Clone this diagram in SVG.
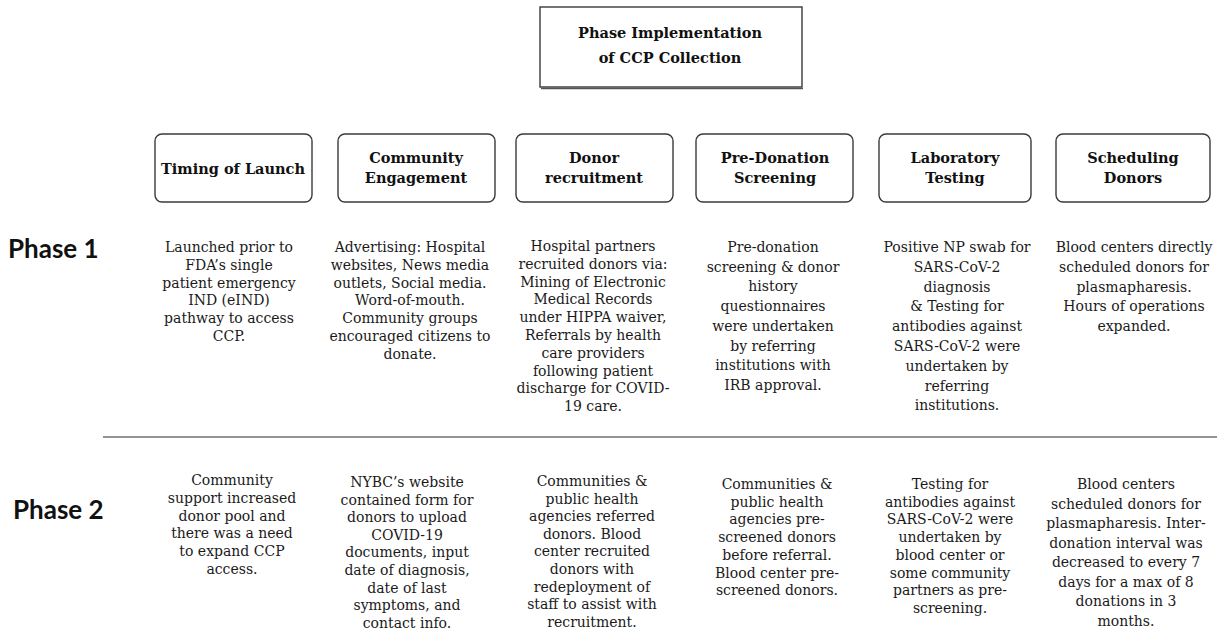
<svg xmlns="http://www.w3.org/2000/svg" width="1217" height="631" viewBox="0 0 1217 631">
<style>
.bg{fill:#ffffff}
.box{fill:#ffffff;stroke:#3a3a3a;stroke-width:1.4}
.shadow{fill:none;stroke:#555;stroke-width:1.5}
.hd{font-family:"DejaVu Serif","Liberation Serif",serif;font-weight:bold;font-size:14.5px;fill:#111;text-anchor:middle}
.tx{font-family:"DejaVu Serif","Liberation Serif",serif;font-size:14px;fill:#1a1a1a;text-anchor:middle}
.ph{font-family:Lato,"Open Sans",sans-serif;font-weight:bold;font-size:26px;fill:#111}
.sep{stroke:#707070;stroke-width:1.6}
</style>
<rect class="bg" x="0" y="0" width="1217" height="631"/>

<g id="title">
<line class="shadow" x1="541" y1="88.5" x2="803" y2="88.5"/>
<rect class="box" x="540" y="7" width="262" height="80"/>
<text class="hd" x="670" y="38">Phase Implementation</text>
<text class="hd" x="670" y="63">of CCP Collection</text>
</g>

<g id="hdr-timing">
<rect class="box" x="155" y="134" width="157" height="68" rx="7"/>
<text class="hd" x="233" y="174">Timing of Launch</text>
</g>
<g id="hdr-community">
<rect class="box" x="338" y="134" width="157" height="68" rx="7"/>
<text class="hd" x="416" y="163">Community</text>
<text class="hd" x="416" y="183">Engagement</text>
</g>
<g id="hdr-donor">
<rect class="box" x="516" y="134" width="157" height="68" rx="7"/>
<text class="hd" x="594" y="163">Donor</text>
<text class="hd" x="594" y="183">recruitment</text>
</g>
<g id="hdr-screening">
<rect class="box" x="696" y="134" width="157" height="68" rx="7"/>
<text class="hd" x="775" y="163">Pre-Donation</text>
<text class="hd" x="775" y="183">Screening</text>
</g>
<g id="hdr-lab">
<rect class="box" x="879" y="134" width="152" height="68" rx="7"/>
<text class="hd" x="955" y="163">Laboratory</text>
<text class="hd" x="955" y="183">Testing</text>
</g>
<g id="hdr-scheduling">
<rect class="box" x="1056" y="134" width="154" height="68" rx="7"/>
<text class="hd" x="1133" y="163">Scheduling</text>
<text class="hd" x="1133" y="183">Donors</text>
</g>

<g id="phase1-label"><text class="ph" x="8" y="258">Phase 1</text></g>
<g id="phase2-label"><text class="ph" x="13" y="519">Phase 2</text></g>

<g id="separators"><line class="sep" x1="103" y1="437" x2="1217" y2="437"/></g>

<g id="p1-timing">
<text class="tx" y="252"><tspan x="229">Launched prior to</tspan><tspan x="229" dy="17.8">FDA’s single</tspan><tspan x="229" dy="17.8">patient emergency</tspan><tspan x="229" dy="17.8">IND (eIND)</tspan><tspan x="229" dy="17.8">pathway to access</tspan><tspan x="229" dy="17.8">CCP.</tspan></text>
</g>
<g id="p1-community">
<text class="tx" y="252"><tspan x="410">Advertising: Hospital</tspan><tspan x="410" dy="17.8">websites, News media</tspan><tspan x="410" dy="17.8">outlets, Social media.</tspan><tspan x="410" dy="17.8">Word-of-mouth.</tspan><tspan x="410" dy="17.8">Community groups</tspan><tspan x="410" dy="17.8">encouraged citizens to</tspan><tspan x="410" dy="17.8">donate.</tspan></text>
</g>
<g id="p1-donor">
<text class="tx" y="251"><tspan x="593">Hospital partners</tspan><tspan x="593" dy="17.8">recruited donors via:</tspan><tspan x="593" dy="17.8">Mining of Electronic</tspan><tspan x="593" dy="17.8">Medical Records</tspan><tspan x="593" dy="17.8">under HIPPA waiver,</tspan><tspan x="593" dy="17.8">Referrals by health</tspan><tspan x="593" dy="17.8">care providers</tspan><tspan x="593" dy="17.8">following patient</tspan><tspan x="593" dy="17.8">discharge for COVID-</tspan><tspan x="593" dy="17.8">19 care.</tspan></text>
</g>
<g id="p1-screening">
<text class="tx" y="252"><tspan x="773">Pre-donation</tspan><tspan x="773" dy="19.7">screening &amp; donor</tspan><tspan x="773" dy="19.7">history</tspan><tspan x="773" dy="19.7">questionnaires</tspan><tspan x="773" dy="19.7">were undertaken</tspan><tspan x="773" dy="19.7">by referring</tspan><tspan x="773" dy="19.7">institutions with</tspan><tspan x="773" dy="19.7">IRB approval.</tspan></text>
</g>
<g id="p1-lab">
<text class="tx" y="252"><tspan x="957">Positive NP swab for</tspan><tspan x="957" dy="19.8">SARS-CoV-2</tspan><tspan x="957" dy="19.8">diagnosis</tspan><tspan x="957" dy="19.8">&amp; Testing for</tspan><tspan x="957" dy="19.8">antibodies against</tspan><tspan x="957" dy="19.8">SARS-CoV-2 were</tspan><tspan x="957" dy="19.8">undertaken by</tspan><tspan x="957" dy="19.8">referring</tspan><tspan x="957" dy="19.8">institutions.</tspan></text>
</g>
<g id="p1-scheduling">
<text class="tx" y="252"><tspan x="1134">Blood centers directly</tspan><tspan x="1134" dy="19.8">scheduled donors for</tspan><tspan x="1134" dy="19.8">plasmapharesis.</tspan><tspan x="1134" dy="19.8">Hours of operations</tspan><tspan x="1134" dy="19.8">expanded.</tspan></text>
</g>

<g id="p2-timing">
<text class="tx" y="485"><tspan x="232">Community</tspan><tspan x="232" dy="17.8">support increased</tspan><tspan x="232" dy="17.8">donor pool and</tspan><tspan x="232" dy="17.8">there was a need</tspan><tspan x="232" dy="17.8">to expand CCP</tspan><tspan x="232" dy="17.8">access.</tspan></text>
</g>
<g id="p2-community">
<text class="tx" y="487"><tspan x="407">NYBC’s website</tspan><tspan x="407" dy="17.6">contained form for</tspan><tspan x="407" dy="17.6">donors to upload</tspan><tspan x="407" dy="17.6">COVID-19</tspan><tspan x="407" dy="17.6">documents, input</tspan><tspan x="407" dy="17.6">date of diagnosis,</tspan><tspan x="407" dy="17.6">date of last</tspan><tspan x="407" dy="17.6">symptoms, and</tspan><tspan x="407" dy="17.6">contact info.</tspan></text>
</g>
<g id="p2-donor">
<text class="tx" y="486"><tspan x="592">Communities &amp;</tspan><tspan x="592" dy="17.6">public health</tspan><tspan x="592" dy="17.6">agencies referred</tspan><tspan x="592" dy="17.6">donors. Blood</tspan><tspan x="592" dy="17.6">center recruited</tspan><tspan x="592" dy="17.6">donors with</tspan><tspan x="592" dy="17.6">redeployment of</tspan><tspan x="592" dy="17.6">staff to assist with</tspan><tspan x="592" dy="17.6">recruitment.</tspan></text>
</g>
<g id="p2-screening">
<text class="tx" y="489"><tspan x="777">Communities &amp;</tspan><tspan x="777" dy="17.7">public health</tspan><tspan x="777" dy="17.7">agencies pre-</tspan><tspan x="777" dy="17.7">screened donors</tspan><tspan x="777" dy="17.7">before referral.</tspan><tspan x="777" dy="17.7">Blood center pre-</tspan><tspan x="777" dy="17.7">screened donors.</tspan></text>
</g>
<g id="p2-lab">
<text class="tx" y="489"><tspan x="950">Testing for</tspan><tspan x="950" dy="17.7">antibodies against</tspan><tspan x="950" dy="17.7">SARS-CoV-2 were</tspan><tspan x="950" dy="17.7">undertaken by</tspan><tspan x="950" dy="17.7">blood center or</tspan><tspan x="950" dy="17.7">some community</tspan><tspan x="950" dy="17.7">partners as pre-</tspan><tspan x="950" dy="17.7">screening.</tspan></text>
</g>
<g id="p2-scheduling">
<text class="tx" y="489"><tspan x="1126">Blood centers</tspan><tspan x="1126" dy="19.5">scheduled donors for</tspan><tspan x="1126" dy="19.5">plasmapharesis. Inter-</tspan><tspan x="1126" dy="19.5">donation interval was</tspan><tspan x="1126" dy="19.5">decreased to every 7</tspan><tspan x="1126" dy="19.5">days for a max of 8</tspan><tspan x="1126" dy="19.5">donations in 3</tspan><tspan x="1126" dy="19.5">months.</tspan></text>
</g>
</svg>
